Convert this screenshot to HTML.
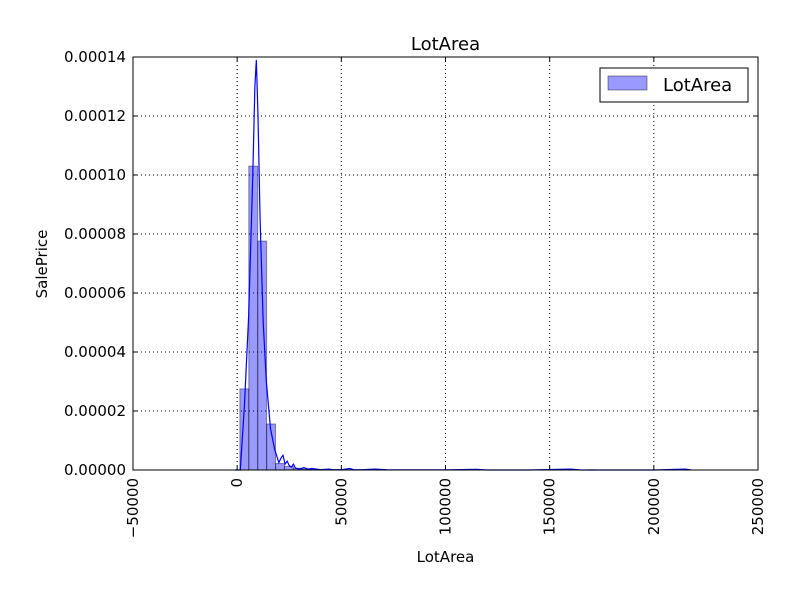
<!DOCTYPE html>
<html><head><meta charset="utf-8"><style>
body{margin:0;background:#fff;font-family:"DejaVu Sans","Liberation Sans",sans-serif}
svg text{font-family:"DejaVu Sans","Liberation Sans",sans-serif}
</style></head><body>
<svg id="chart" width="800" height="600" xmlns="http://www.w3.org/2000/svg"></svg>
<script>
const binStart = 1300, binWidth = 4279;
const binValues = [2.75e-5,1.03e-4,7.76e-5,1.56e-5,2.2e-6,1.2e-6,6e-7,3e-7,2e-7,2e-7,1e-7,1.5e-7,1e-7,0,0,0,0,0,0,0,0,0,0,0,0,0,5e-8,0,0,0,0,0,0,0,0,0,0,5e-8,0,5e-8,0,0,0,0,0,0,0,0,0,5e-8];
const kdeX = [-1000,1500,3500,5500,7500,8500,9200,10000,11000,12500,14000,16000,18000,20000,21000,22000,23000,24000,25000,26000,27000,28000,30000,32000,34000,36000,40000,44000,46000,50000,54000,56000,60000,66000,72000,80000,100000,115000,120000,140000,160000,165000,180000,200000,215000,218000];
const kdeY = [0,0,2.2e-5,5.2e-5,1.0e-4,1.3e-4,1.39e-4,1.2e-4,8.5e-5,5e-5,3e-5,1.4e-5,7e-6,2.5e-6,4e-6,5e-6,2e-6,3e-6,1.5e-6,1e-6,2e-6,6e-7,3e-7,8e-7,3e-7,5e-7,1e-7,3e-7,1e-7,1e-7,5e-7,1e-7,1e-7,3e-7,1e-7,5e-8,3e-8,2e-7,0,0,3e-7,0,0,0,3e-7,0];
const xTicks = [-50000,0,50000,100000,150000,200000,250000];
const xTickLabels = ["\u221250000","0","50000","100000","150000","200000","250000"];
const yTicks = [0,0.00002,0.00004,0.00006,0.00008,0.0001,0.00012,0.00014];
const yTickLabels = ["0.00000","0.00002","0.00004","0.00006","0.00008","0.00010","0.00012","0.00014"];

const L=133,R=758,T=57,B=470;
const sx=v=>L+(v+50000)/300000*(R-L);
const sy=v=>B-v/0.00014*(B-T);
const svg=document.getElementById('chart');
const NS="http://www.w3.org/2000/svg";
function mk(tag,attrs,parent){const e=document.createElementNS(NS,tag);for(const k in attrs)e.setAttribute(k,attrs[k]);(parent||svg).appendChild(e);return e;}

xTicks.forEach((t,i)=>{
  const g=mk('line',{x1:sx(t),x2:sx(t),y1:T,y2:B,stroke:'#000','stroke-dasharray':'1,3','stroke-width':1});
  
  
});
yTicks.forEach(t=>{
  const g=mk('line',{x1:L,x2:R,y1:sy(t),y2:sy(t),stroke:'#000','stroke-dasharray':'1,3','stroke-width':1});
  
  
});
binValues.forEach((v,i)=>{
  if(v<=0)return;
  const x0=sx(binStart+i*binWidth),x1=sx(binStart+(i+1)*binWidth);
  const b=mk('rect',{x:x0,y:sy(v),width:x1-x0,height:B-sy(v),fill:'rgba(0,0,255,0.4)',stroke:'rgba(0,0,0,0.4)','stroke-width':1});
  
  
});
const pts=kdeX.map((x,i)=>sx(x)+','+sy(kdeY[i])).join(' ');
const kl=mk('polyline',{points:pts,fill:'none',stroke:'#0000ff','stroke-width':1.2});


const fr=mk('rect',{x:L,y:T,width:R-L,height:B-T,fill:'none',stroke:'#000','stroke-width':1});


xTicks.forEach((t,i)=>{
  mk('line',{x1:sx(t),x2:sx(t),y1:B,y2:B-4,stroke:'#000'});
  mk('line',{x1:sx(t),x2:sx(t),y1:T,y2:T+4,stroke:'#000'});
  const tx=mk('text',{x:0,y:0,'font-size':15,'text-anchor':'end',transform:`translate(${sx(t)+5},${B+8}) rotate(-90)`});
  tx.textContent=xTickLabels[i];
  
  
});
yTicks.forEach((t,i)=>{
  mk('line',{x1:L,x2:L+4,y1:sy(t),y2:sy(t),stroke:'#000'});
  mk('line',{x1:R,x2:R-4,y1:sy(t),y2:sy(t),stroke:'#000'});
  const tx=mk('text',{x:L-7,y:sy(t)+5,'font-size':15,'text-anchor':'end'});
  tx.textContent=yTickLabels[i];
  
  
});
let t=mk('text',{x:(L+R)/2,y:50,'font-size':18,'text-anchor':'middle'});t.textContent='LotArea';


t=mk('text',{x:(L+R)/2,y:562,'font-size':15,'text-anchor':'middle'});t.textContent='LotArea';


t=mk('text',{x:0,y:0,'font-size':15,'text-anchor':'middle',transform:'translate(47,264) rotate(-90)'});t.textContent='SalePrice';


const lg=mk('g',{});


mk('rect',{x:600,y:68,width:148,height:34,fill:'#fff',stroke:'#000'},lg);
const sw=mk('rect',{x:608,y:76,width:39,height:14,fill:'rgba(0,0,255,0.4)',stroke:'rgba(0,0,0,0.4)'},lg);


t=mk('text',{x:663,y:91,'font-size':18},lg);t.textContent='LotArea';


</script>
</body></html>
